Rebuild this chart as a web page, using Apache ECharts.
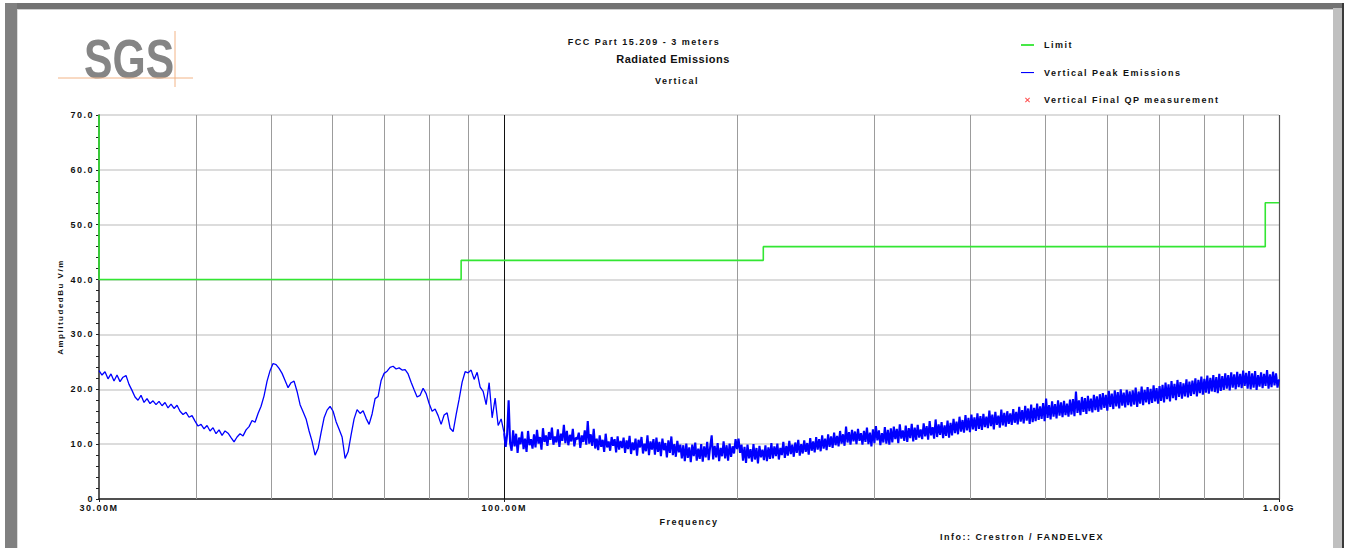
<!DOCTYPE html>
<html><head><meta charset="utf-8">
<script src="https://cdn.jsdelivr.net/npm/echarts@6.0.0/dist/echarts.min.js"></script>
<style>
html,body{margin:0;padding:0;background:#fff;}
#chart{width:1346px;height:548px;letter-spacing:1.5px;}
#chart text[style*="11px"]{letter-spacing:0.5px;}
#chart text[style*="55px"]{letter-spacing:0;}
</style></head>
<body><div id="chart"></div>
<script>
// ---- DATA ----
// Sweep segment 1: 30 -> 100 MHz (log-spaced sweep points)
const sweepLowMHz = [30, 100];
const peakLow = [
 23.4,22.6,23.2,21.9,22.8,21.5,22.6,21.4,22.2,22.5,
 20.9,19.8,18.6,18.0,18.9,17.6,18.3,17.4,17.9,17.2,
 17.8,17.0,17.6,16.6,17.3,16.5,17.1,16.0,15.4,15.8,
 14.9,15.2,14.2,13.3,13.6,12.8,13.4,12.4,13.0,11.9,
 12.6,11.6,12.4,12.0,11.2,10.4,11.3,11.9,11.5,12.6,
 13.2,14.3,14.0,15.6,16.9,18.8,21.5,23.4,24.7,24.5,
 23.8,22.9,21.6,20.3,21.2,21.5,19.6,17.2,15.9,14.6,
 12.4,10.5,8.0,9.2,12.1,14.8,16.2,16.9,16.0,14.1,
 12.7,11.3,7.4,8.6,11.7,14.6,16.3,15.6,16.1,14.7,
 13.6,15.5,18.3,18.7,21.6,22.9,23.3,24.0,24.2,23.7,
 23.9,23.5,23.6,22.8,21.3,19.9,18.6,18.9,20.2,19.2,
 17.4,16.0,16.4,15.2,13.6,15.3,15.7,12.9,12.3,15.4,
 18.2,21.3,23.2,23.0,23.5,21.8,23.1,20.4,19.6,17.2,
 21.2,14.8,18.4,13.4,14.6
];
// Sweep segment 2: 100 -> 1000 MHz (log-spaced sweep points, endpoints included)
const sweepHighMHz = [100, 1000];
const peakHigh = [
 12.0,9.5,11.8,18.0,10.2,8.8,12.5,9.6,11.9,8.4,11.2,10.0,12.3,9.1,11.0,8.6,12.4,9.8,10.9,9.2,
 11.8,9.4,12.6,10.1,11.3,9.0,12.9,10.4,11.6,9.7,12.2,10.8,13.0,9.9,11.4,10.3,12.7,9.5,11.9,10.6,
 13.5,10.2,12.4,9.8,11.7,10.5,12.8,9.6,11.2,10.9,12.1,9.3,11.6,10.4,12.5,9.9,14.2,10.1,11.8,9.7,
 12.8,9.2,11.0,8.9,11.6,9.5,10.8,8.6,11.9,9.4,10.5,8.8,11.3,9.7,10.9,8.5,11.4,9.0,10.6,9.3,
 11.2,8.4,10.7,9.1,11.5,8.2,10.3,8.9,11.0,7.9,10.8,9.4,11.3,8.3,10.1,8.7,11.6,8.0,10.5,9.0,
 10.9,8.1,11.2,8.6,10.4,7.8,11.0,8.9,10.2,7.6,10.7,8.4,11.4,8.0,10.0,7.7,10.6,8.5,9.9,7.4,
 9.8,6.9,10.1,7.5,9.4,6.7,9.9,7.8,10.3,7.0,9.2,7.3,10.0,6.8,9.6,7.6,10.4,7.1,9.5,11.6,
 7.2,9.7,7.6,10.2,6.9,9.3,7.8,10.5,7.4,9.8,7.0,10.1,7.7,9.6,8.3,10.9,9.1,11.0,8.4,9.9,
 7.0,9.5,6.6,9.9,7.4,9.1,6.8,10.0,7.2,9.3,6.5,9.7,7.6,9.0,7.1,9.8,6.9,9.4,7.3,10.2,
 7.4,9.6,7.8,10.1,7.2,9.3,8.0,10.4,7.5,9.7,7.9,10.6,8.2,9.9,7.7,10.3,8.4,10.8,7.9,10.0,
 8.3,10.7,8.6,10.2,8.1,11.1,8.8,10.5,8.5,11.3,9.0,10.9,8.7,11.6,9.2,11.0,8.9,11.8,9.5,11.4,
 9.3,12.1,9.8,11.5,9.6,12.4,10.1,11.8,9.7,13.2,10.3,12.2,9.9,12.6,10.5,12.3,10.0,12.8,10.6,12.0,
 9.9,12.4,10.4,13.0,10.0,12.1,9.6,12.7,10.2,13.3,10.7,12.5,9.8,12.0,10.3,13.1,10.1,12.6,9.9,12.9,
 10.3,13.2,10.9,12.8,10.2,13.6,11.0,12.5,10.6,13.4,10.4,12.9,11.1,13.7,10.5,13.0,10.8,13.5,11.2,12.7,
 10.9,13.8,11.4,13.3,10.8,14.2,11.6,13.1,11.0,14.5,11.3,13.6,11.7,14.0,11.1,13.4,11.5,14.3,11.2,13.9,
 11.6,14.6,12.0,14.1,11.8,15.0,12.3,14.4,12.1,15.3,12.5,14.8,12.2,15.4,12.7,14.9,12.4,15.6,12.8,15.1,
 12.6,15.5,13.1,15.0,12.9,16.1,13.3,15.4,12.7,15.9,13.5,15.2,13.0,16.3,13.4,15.7,13.2,16.0,13.7,15.6,
 13.5,16.4,13.9,15.9,13.6,16.8,14.1,16.2,13.8,17.0,14.3,16.5,13.7,17.2,14.0,16.6,14.2,17.4,14.4,16.9,
 14.6,17.5,14.2,18.3,14.8,17.1,14.5,17.8,15.0,17.3,14.7,18.0,15.2,17.6,14.9,17.9,15.3,17.4,15.0,18.1,
 15.4,18.2,15.1,19.6,15.7,18.0,15.3,18.6,15.9,18.4,15.5,18.8,16.0,18.3,15.8,19.0,16.2,18.7,15.9,19.1,
 16.3,19.3,16.6,19.0,16.1,19.7,16.8,19.2,16.4,19.8,16.9,19.5,16.5,20.0,17.0,19.4,16.7,19.9,17.1,19.6,
 16.9,19.8,17.2,20.3,16.8,19.6,17.4,20.5,17.1,19.9,17.6,20.4,17.3,20.1,17.5,20.7,17.8,20.2,17.4,20.6,
 17.9,20.8,17.6,21.2,18.2,20.9,17.8,21.5,18.4,21.0,18.0,21.7,18.6,21.3,18.3,21.1,18.7,21.8,18.5,21.4,
 18.8,21.6,19.1,22.0,18.7,21.7,19.3,22.3,19.0,21.9,19.4,22.5,19.2,22.1,19.6,22.6,19.5,22.2,19.3,22.8,
 19.7,22.4,19.9,22.9,20.1,22.6,19.8,23.1,20.3,22.7,20.0,23.2,20.4,22.8,20.2,23.4,20.6,23.0,20.1,23.3,
 20.0,22.9,20.3,23.3,19.9,22.6,20.5,23.1,20.2,22.8,20.6,23.5,20.1,22.7,20.4,23.2,20.7,22.9,20.3,21.8
];
// FCC 15.209 limit (3 m), step line
const limitFreqMHz = [30, 30, 88, 88, 216, 216, 960, 960, 1000];
const limitLevel   = [70, 40, 40, 43.5, 43.5, 46, 46, 54, 54];
// QP final measurements (none in this plot)
const qpPoints = [];
// vertical grid frequencies
const gridFreqMHz = [40, 50, 60, 70, 80, 90, 200, 300, 400, 500, 600, 700, 800, 900];
const majorGridMHz = [100];
const edgeGridMHz = [1000];
const xAxisMinMHz = 30, xAxisMaxMHz = 1000;
const yMin = 0, yMax = 70, yStep = 10;

// ---- BUILD ----
const lowPts = peakLow.map((v, i) => [sweepLowMHz[0] * Math.pow(sweepLowMHz[1] / sweepLowMHz[0], i / peakLow.length) * 1e6, v]);
const highPts = peakHigh.map((v, j) => [sweepHighMHz[0] * Math.pow(sweepHighMHz[1] / sweepHighMHz[0], j / (peakHigh.length - 1)) * 1e6, v]);
const lowTrace = lowPts.concat([highPts[0]]);   // joined to the first point of the next sweep segment
const limitData = limitFreqMHz.map((f, i) => [f * 1e6, limitLevel[i]]);

const FONT = '"Liberation Sans", Arial, sans-serif';
const txt = (size, weight) => ({ fontSize: size, fontWeight: weight || 'bold', color: '#111', fontFamily: FONT });

const gridLines = []
  .concat(gridFreqMHz.map(f => ({ xAxis: f * 1e6, lineStyle: { color: '#9c9c9c', width: 1, type: 'solid' } })))
  .concat(majorGridMHz.map(f => ({ xAxis: f * 1e6, lineStyle: { color: '#111', width: 1, type: 'solid' } })))
  .concat(edgeGridMHz.map(f => ({ xAxis: f * 1e6, lineStyle: { color: '#555', width: 1.2, type: 'solid' } })));

const lineIconThick = 'path://M0,0L0,0M0,5.6H13V7.4H0ZM18,13L18,13';
const lineIconThin = 'path://M0,0L0,0M0,6H13V7.1H0ZM18,13L18,13';
const crossIcon = 'path://M0,0L0,0M4,4.7L4.7,4L6.5,5.8L8.3,4L9,4.7L7.2,6.5L9,8.3L8.3,9L6.5,7.2L4.7,9L4,8.3L5.8,6.5ZM18,13L18,13';

const chart = echarts.init(document.getElementById('chart'), null, { renderer: 'svg', width: 1346, height: 548 });
chart.setOption({
  animation: false,
  backgroundColor: '#ffffff',
  title: [
    { text: 'FCC Part 15.209 - 3 meters', left: 644, top: 37.5, textAlign: 'center', padding: 0, textStyle: txt(9) },
    { text: 'Radiated Emissions', left: 673, top: 53.5, textAlign: 'center', padding: 0, textStyle: txt(11) },
    { text: 'Vertical', left: 677, top: 76, textAlign: 'center', padding: 0, textStyle: txt(9) },
    { text: 'Info:: Crestron / FANDELVEX', left: 1022, top: 532.5, textAlign: 'center', padding: 0, textStyle: txt(9) }
  ],
  legend: {
    orient: 'vertical', left: 1021, top: 38.5, itemWidth: 18, itemHeight: 13, itemGap: 14.5,
    selectedMode: false, padding: 0,
    itemStyle: { borderWidth: 0 },
    textStyle: txt(9),
    data: [
      { name: 'Limit', icon: lineIconThick },
      { name: 'Vertical Peak Emissions', icon: lineIconThin },
      { name: 'Vertical Final QP measurement', icon: crossIcon }
    ]
  },
  grid: { left: 99, right: 67, top: 115, bottom: 49, containLabel: false },
  xAxis: {
    type: 'log', logBase: 10, min: xAxisMinMHz * 1e6, max: xAxisMaxMHz * 1e6,
    axisLine: { show: true, onZero: false, lineStyle: { color: '#222', width: 1.5 } },
    axisTick: { show: true, length: 3, lineStyle: { color: '#222' } },
    axisLabel: {
      margin: 4, ...txt(9),
      formatter: v => v >= 1e9 - 1 ? (v / 1e9).toFixed(2) + 'G' : (v / 1e6).toFixed(2) + 'M'
    },
    splitLine: { show: false },
    name: 'Frequency', nameLocation: 'middle', nameGap: 18, nameTextStyle: txt(9)
  },
  yAxis: {
    type: 'value', min: yMin, max: yMax, interval: yStep,
    axisLine: { show: true, lineStyle: { color: '#222', width: 1.5 } },
    axisTick: { show: true, length: 3, lineStyle: { color: '#222' } },
    minorTick: { show: true, splitNumber: 5, length: 3, lineStyle: { color: '#222' } },
    axisLabel: { margin: 5, ...txt(9), formatter: v => v === 0 ? '0' : v.toFixed(1) },
    splitLine: { show: true, lineStyle: { color: '#d0d0d0', width: 1.5 } },
    name: 'AmplitudedBu V/m', nameLocation: 'middle', nameGap: 35, nameTextStyle: txt(8)
  },
  graphic: [
    { type: 'rect', shape: { x: 5, y: 3, width: 1338, height: 6 }, style: { fill: '#737373' }, silent: true },
    { type: 'rect', shape: { x: 17, y: 9, width: 1316, height: 1 }, style: { fill: '#cfcfcf' }, silent: true },
    { type: 'rect', shape: { x: 5, y: 3, width: 12, height: 545 }, style: { fill: '#808080' }, silent: true },
    { type: 'rect', shape: { x: 17, y: 10, width: 1, height: 538 }, style: { fill: '#dcdcdc' }, silent: true },
    { type: 'rect', shape: { x: 1333, y: 8, width: 9, height: 540 }, style: { fill: '#c0c0c0' }, silent: true },
    { type: 'rect', shape: { x: 1342, y: 3, width: 2, height: 545 }, style: { fill: '#3a3a3a' }, silent: true },
    { type: 'text', x: 84, y: 31, scaleX: 0.776, silent: true,
      style: { text: 'SGS', fontSize: 55, fontWeight: 'bold', fontFamily: FONT, fill: '#858585' } },
    { type: 'line', shape: { x1: 58, y1: 78, x2: 193, y2: 78 }, style: { stroke: '#f2b487', lineWidth: 1 }, silent: true },
    { type: 'line', shape: { x1: 175, y1: 31, x2: 175, y2: 87 }, style: { stroke: '#f2b487', lineWidth: 1 }, silent: true }
  ],
  series: [
    {
      name: 'Limit', type: 'line', data: limitData, symbol: 'none', z: 3,
      color: '#33e633', lineStyle: { color: '#33e633', width: 1.6 },
      markLine: { silent: true, symbol: 'none', z: 1, label: { show: false }, animation: false, data: gridLines }
    },
    {
      name: 'Vertical Peak Emissions', type: 'line', data: lowTrace, symbol: 'none', z: 2,
      sampling: 'none', color: '#0000ff', lineStyle: { color: '#0000ff', width: 1.3 }
    },
    {
      name: 'Vertical Peak Emissions', type: 'line', data: highPts, symbol: 'none', z: 2,
      sampling: 'none', color: '#0000ff', lineStyle: { color: '#0000ff', width: 2.1 }
    },
    {
      name: 'Vertical Final QP measurement', type: 'scatter', data: qpPoints, z: 4,
      symbol: crossIcon, symbolSize: 10, color: '#ff2020'
    }
  ]
});
</script></body></html>
